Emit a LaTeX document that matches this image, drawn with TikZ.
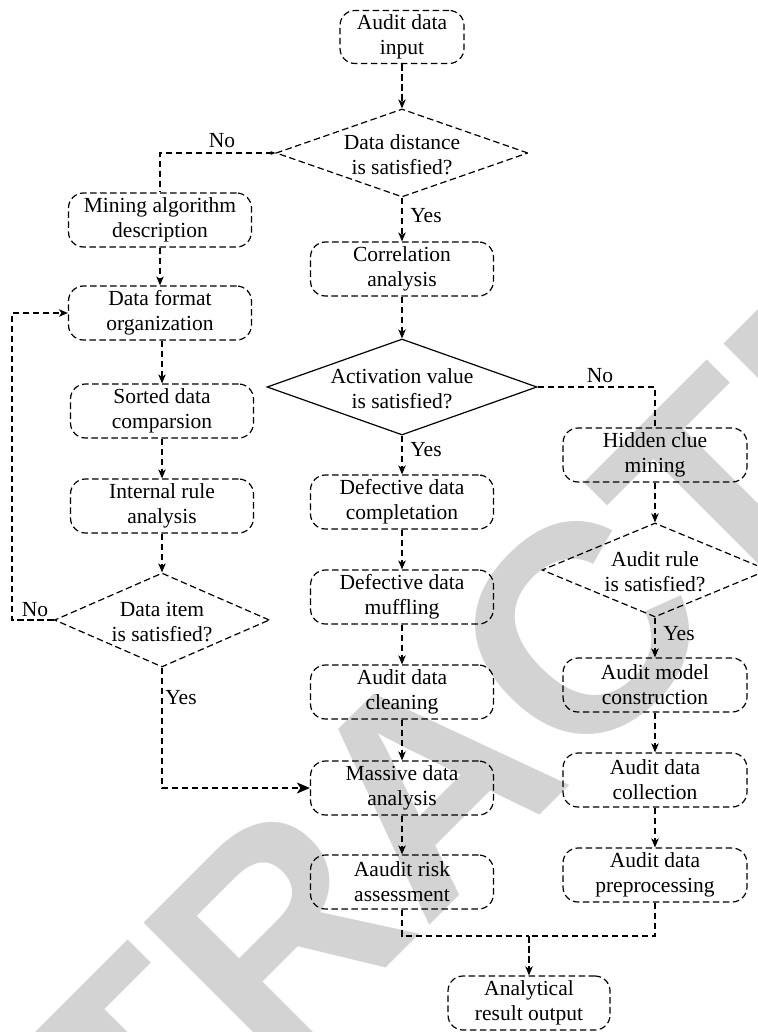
\documentclass[tikz,border=0pt]{standalone}
\usepackage{fontspec}
\setmainfont{Liberation Serif}
\newfontfamily\wmfamily{Liberation Sans}
\usetikzlibrary{arrows.meta,shapes.geometric}
\definecolor{wmgray}{RGB}{211,211,211}
\tikzset{
  every node/.style={font=\fontsize{21.5}{25}\selectfont},
  dsh/.style={line width=1.2pt, dash pattern=on 6.5pt off 3.5pt},
  box/.style={dsh, draw, rectangle, rounded corners=15pt, minimum width=183pt, minimum height=54pt, inner sep=0pt, align=center},
  diam/.style={draw, diamond, inner sep=0pt},
  arr/.style={-{Stealth[length=9pt,width=7.5pt,inset=2.5pt]}},
  bigarr/.style={-{Stealth[length=13pt,width=11pt,inset=3.5pt]}},
  conn/.style={dsh, draw},
  lbl/.style={inner sep=0pt}
}
\begin{document}
\begin{tikzpicture}[x=1pt,y=-1pt]
\useasboundingbox (0,0) rectangle (757,1032);
\clip (0,0) rectangle (757,1032);
% watermark
\node[rotate=45, text=wmgray, inner sep=0pt, font={\wmfamily\bfseries\fontsize{295}{295}\selectfont}] (wm) at (428,783) {RETRACTED};
% top
\node[box, minimum width=124pt, minimum height=53pt] (in) at (402,37) {Audit data\\input};
\node[diam, dsh, minimum width=252pt, minimum height=88pt] (d1) at (402,153) {};
\node[lbl, align=center] (d1t) at (402,155) {Data distance\\is satisfied?};
% left column
\node[box] (mine) at (160,220) {Mining algorithm\\description};
\node[box] (fmt) at (160,313) {Data format\\organization};
\node[box] (sort) at (162,411) {Sorted data\\comparsion};
\node[box] (irule) at (162,506) {Internal rule\\analysis};
\node[diam, dsh, minimum width=215pt, minimum height=94pt] (d4) at (162,620) {};
\node[lbl, align=center] (d4t) at (162,622) {Data item\\is satisfied?};
% center column
\node[box] (corr) at (402,269) {Correlation\\analysis};
\node[diam, line width=1.2pt, minimum width=270pt, minimum height=96pt] (d2) at (402,387) {};
\node[lbl, align=center] (d2t) at (402,389) {Activation value\\is satisfied?};
\node[box] (defc) at (402,502) {Defective data\\completation};
\node[box] (muff) at (402,597) {Defective data\\muffling};
\node[box] (clean) at (402,692) {Audit data\\cleaning};
\node[box] (mass) at (402,788) {Massive data\\analysis};
\node[box] (risk) at (402,882) {Aaudit risk\\assessment};
% right column
\node[box, minimum width=184pt] (hid) at (655,455) {Hidden clue\\mining};
\node[diam, dsh, minimum width=226pt, minimum height=94pt] (d3) at (655,570) {};
\node[lbl, align=center] (d3t) at (655,572) {Audit rule\\is satisfied?};
\node[box, minimum width=184pt] (model) at (655,685) {Audit model\\construction};
\node[box, minimum width=184pt] (coll) at (655,780) {Audit data\\collection};
\node[box, minimum width=184pt] (prep) at (655,875) {Audit data\\preprocessing};
% bottom
\node[box, minimum width=162pt] (out) at (529,1003) {Analytical\\result output};
\coordinate (join) at (529,936);
% labels
\node[lbl] (l1) at (222,141) {No};
\node[lbl] (l2) at (426,216) {Yes};
\node[lbl] (l3) at (600,376) {No};
\node[lbl] (l4) at (426,450) {Yes};
\node[lbl] (l5) at (35,610) {No};
\node[lbl] (l6) at (181,698) {Yes};
\node[lbl] (l7) at (679,634) {Yes};
% connectors
\draw[conn, arr] (in.south) -- (d1.north);
\draw[conn, {Stealth[length=5pt,width=4pt]}-] (d1.west) -| (mine.north);
\draw[conn, arr] (mine.south) -- (fmt.north);
\draw[conn, arr] (sort.north |- fmt.south) -- (sort.north);
\draw[conn, arr] (sort.south) -- (irule.north);
\draw[conn, arr] (irule.south) -- (d4.north);
\draw[conn, arr] (d4.west) -- ++(-42,0) |- (fmt.west);
\draw[conn, bigarr] (d4.south) |- (mass.west);
\draw[conn, arr] (d1.south) -- (corr.north);
\draw[conn, arr] (corr.south) -- (d2.north);
\draw[conn, arr] (d2.south) -- (defc.north);
\draw[conn, arr] (defc.south) -- (muff.north);
\draw[conn, arr] (muff.south) -- (clean.north);
\draw[conn, arr] (clean.south) -- (mass.north);
\draw[conn, arr] (mass.south) -- (risk.north);
\draw[conn] (d2.east) -| (hid.north);
\draw[conn, arr] (hid.south) -- (d3.north);
\draw[conn, arr] (d3.south) -- (model.north);
\draw[conn, arr] (model.south) -- (coll.north);
\draw[conn, arr] (coll.south) -- (prep.north);
\draw[conn] (risk.south) -- (risk.south |- join) -- (join);
\draw[conn] (prep.south) -- (prep.south |- join) -- (join);
\draw[conn, arr] (join) -- (out.north);
\end{tikzpicture}
\end{document}
